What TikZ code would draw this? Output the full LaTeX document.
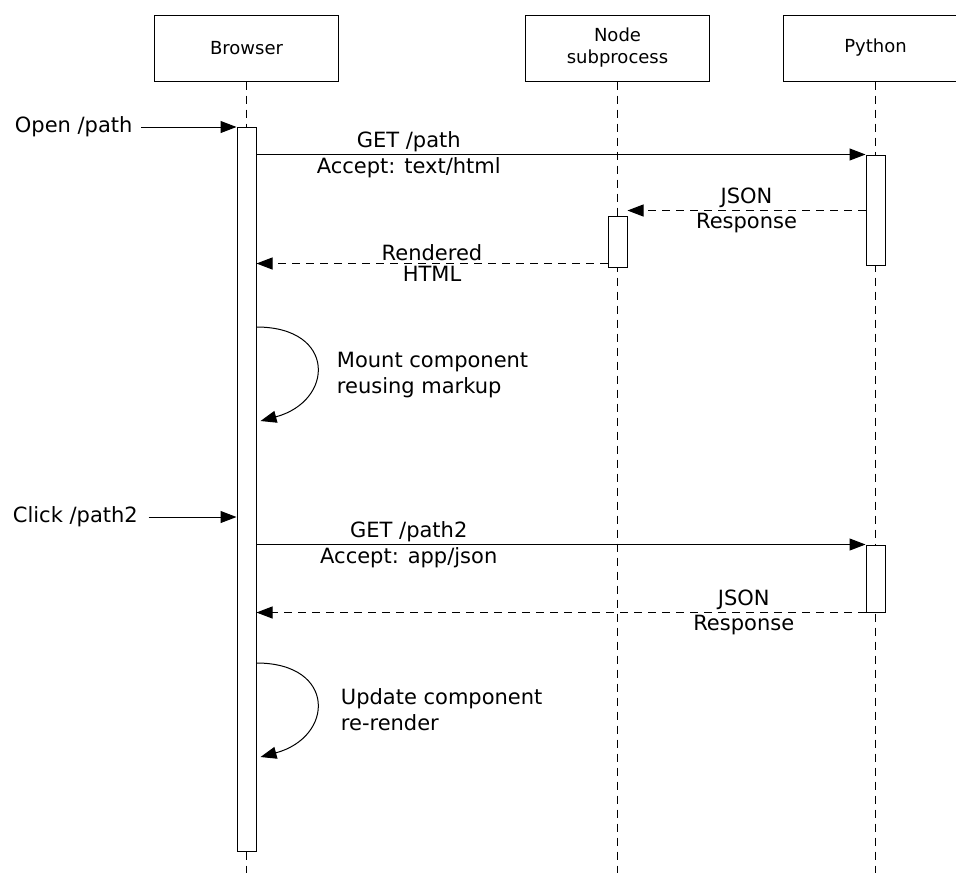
\documentclass[tikz,border=0pt]{standalone}
\usepackage{fontspec}
\setmainfont{DejaVu Sans}
\usetikzlibrary{arrows.meta}

\tikzset{
  actor/.style={draw, minimum width=92pt, minimum height=33pt, align=center, font=\fontsize{9}{11}\selectfont},
  act/.style={draw, fill=white, minimum width=9.5pt, inner sep=0pt},
  life/.style={dash pattern=on 4pt off 3pt},
  msg/.style={-{Triangle[length=8pt,width=6pt]}},
  reply/.style={msg, dash pattern=on 4pt off 3pt},
  lbl/.style={font=\fontsize{10.5}{13}\selectfont, inner sep=1.2pt},
}

\begin{document}
\begin{tikzpicture}[x=0.5pt, y=-0.5pt, line width=0.5pt]
  \clip (0,0) rectangle (956,873);
  \coordinate (bottom) at (0,873);

  \node[actor] (browser) at (246.5,48) {Browser};
  \node[actor] (node) at (617.5,48) {Node\\subprocess};
  \node[actor] (python) at (875.5,48) {Python};
  \foreach \a in {browser,node,python}
    \draw[life] (\a.south) -- (\a.south |- bottom);

  \node[act, minimum height=362pt] (actB) at (246.5,489) {};
  \node[act, minimum height=25.5pt] (actN) at (617.5,241.5) {};
  \node[act, minimum height=55pt] (actP1) at (875.5,210) {};
  \node[act, minimum height=33.5pt] (actP2) at (875.5,578.5) {};

  % first request
  \node[lbl, anchor=west] (open) at (12,127) {Open /path};
  \draw[msg] ([xshift=3pt]open.east) -- (open.east -| actB.west);
  \draw[msg] (actB.east |- actP1.north) -- (actP1.north west)
    node[lbl, pos=.25, above] (get1) {GET /path}
    node[lbl, pos=.25, below] (acc1) {Accept: text/html};
  \coordinate (j1) at ([yshift=2.5pt]actN.north east);
  \draw[reply] (actP1.west |- j1) -- (j1)
    node[lbl, midway, above] (json1) {JSON}
    node[lbl, midway, below] (resp1) {Response};
  \coordinate (r1) at ([yshift=2pt]actN.south west);
  \draw[reply] (r1) -- (r1 -| actB.east)
    node[lbl, midway, above] (rend) {Rendered}
    node[lbl, midway, below] (html) {HTML};
  \draw[msg] (actB.east |- 0,327) .. controls +(80,0) and +(74,-20) .. ([xshift=2pt]actB.east |- 0,421);
  \node[lbl, anchor=west, align=left] (mount) at (334,375) {Mount component\\reusing markup};

  % second request
  \node[lbl, anchor=west] (click) at (10,517) {Click /path2};
  \draw[msg] ([xshift=4pt]click.east) -- (click.east -| actB.west);
  \draw[msg] (actB.east |- actP2.north) -- (actP2.north west)
    node[lbl, pos=.25, above] (get2) {GET /path2}
    node[lbl, pos=.25, below] (acc2) {Accept: app/json};
  \draw[reply] (actP2.south west) -- (actP2.south west -| actB.east)
    node[lbl, pos=.2, above] (json2) {JSON}
    node[lbl, pos=.2, below] (resp2) {Response};
  \draw[msg] (actB.east |- 0,663) .. controls +(80,0) and +(74,-20) .. ([xshift=2pt]actB.east |- 0,757);
  \node[lbl, anchor=west, align=left] (update) at (338,710) {Update component\\re-render};
\end{tikzpicture}
\end{document}
